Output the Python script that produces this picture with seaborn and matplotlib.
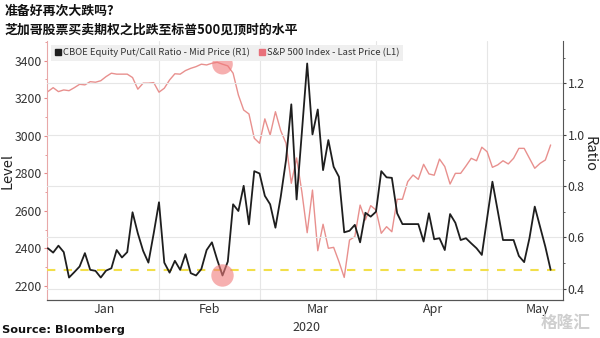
import numpy as np
import pandas as pd
import matplotlib
matplotlib.use("Agg")
import matplotlib.pyplot as plt
import seaborn as sns
from matplotlib.lines import Line2D
from matplotlib.ticker import FixedLocator, MultipleLocator

# ---- data (trading days, 31 Dec 2019 .. 18 May 2020) ----
ratio = [0.558, 0.541, 0.568, 0.543, 0.444, 0.465, 0.487, 0.539, 0.474, 0.470,
         0.444, 0.471, 0.480, 0.551, 0.522, 0.543, 0.698, 0.616, 0.548, 0.502,
         0.616, 0.737, 0.502, 0.463, 0.509, 0.474, 0.535, 0.461, 0.452, 0.477,
         0.551, 0.581, 0.513, 0.452, 0.506, 0.729, 0.703, 0.801, 0.651, 0.858,
         0.849, 0.762, 0.729, 0.638, 0.758, 0.901, 1.118, 0.748, 1.010, 1.277,
         1.001, 1.098, 0.862, 0.979, 0.875, 0.836, 0.620, 0.626, 0.649, 0.581,
         0.696, 0.681, 0.700, 0.858, 0.834, 0.832, 0.694, 0.652, 0.652, 0.652,
         0.652, 0.584, 0.694, 0.593, 0.597, 0.551, 0.691, 0.657, 0.590, 0.597,
         0.577, 0.558, 0.532, 0.675, 0.817, 0.704, 0.590, 0.590, 0.590, 0.528,
         0.504, 0.597, 0.720, 0.642, 0.564, 0.474]
spx = [3235, 3256, 3235, 3244, 3240, 3256, 3274, 3271, 3288, 3285,
       3293, 3315, 3333, 3328, 3328, 3328, 3310, 3248, 3280, 3280,
       3283, 3232, 3253, 3297, 3330, 3328, 3347, 3359, 3368, 3381,
       3377, 3386, 3391, 3381, 3372, 3333, 3217, 3137, 3116, 2987,
       2960, 3090, 3004, 3128, 3027, 2960, 2747, 2882, 2700, 2484,
       2711, 2388, 2529, 2401, 2406, 2330, 2246, 2445, 2463, 2631,
       2552, 2628, 2605, 2481, 2516, 2489, 2662, 2662, 2756, 2791,
       2768, 2848, 2797, 2790, 2876, 2836, 2743, 2800, 2800, 2839,
       2880, 2867, 2939, 2915, 2832, 2845, 2867, 2850, 2880, 2933,
       2933, 2880, 2827, 2853, 2871, 2951]
month_labels = ["Jan", "Feb", "Mar", "Apr", "May"]
month_bounds = [21, 40, 62, 83]          # trading-day index of month changes
month_centres = [10.6, 30.5, 51.0, 72.7, 92.6]
year_label = "2020"
threshold = 0.473
peak_idx = 33

title = "准备好再次大跌吗?\n芝加哥股票买卖期权之比跌至标普500见顶时的水平"
ratio_name = "CBOE Equity Put/Call Ratio - Mid Price (R1)"
spx_name = "S&P 500 Index - Last Price (L1)"

sns.set_style("white")
plt.rcParams["font.family"] = ["Noto Sans CJK SC", "DejaVu Sans"]

df = pd.DataFrame({"day": np.arange(len(ratio)), "ratio": ratio, "spx": spx})

RED = "#e8908e"
BLACK = "#1e1e1e"

fig = plt.figure(figsize=(6, 3.38), dpi=100)
ax = fig.add_axes([0.078, 0.112, 0.860, 0.767])
ax2 = ax.twinx()

sns.lineplot(data=df, x="day", y="spx", ax=ax, color=RED, lw=1.0)
sns.lineplot(data=df, x="day", y="ratio", ax=ax2, color=BLACK, lw=1.3)

ax.set_xlim(-0.2, 97.3)
ax.set_ylim(2125, 3505)
ax2.set_ylim(0.356, 1.365)

# grid
ax2.yaxis.set_major_locator(FixedLocator([0.4, 0.6, 0.8, 1.0, 1.2]))
ax2.yaxis.set_minor_locator(MultipleLocator(0.1))
ax2.grid(axis="y", color="#e6e6e6", lw=0.8, zorder=0)
ax.xaxis.set_major_locator(FixedLocator(month_bounds))
ax.grid(axis="x", color="#e6e6e6", lw=0.8)
ax.xaxis.set_minor_locator(FixedLocator(month_centres))
ax.set_xticklabels([""] * len(month_bounds))
ax.set_xticklabels(month_labels, minor=True)
ax.tick_params(axis="x", which="major", length=3, color="#444444", direction="out")
ax.tick_params(axis="x", which="minor", length=0, labelsize=9, labelcolor="#333333", pad=2)
ax.text(48.8, -0.08, year_label, transform=ax.get_xaxis_transform(),
        ha="center", va="top", fontsize=9, color="#333333")

ax.yaxis.set_major_locator(FixedLocator([2200, 2400, 2600, 2800, 3000, 3200, 3400]))
ax.yaxis.set_minor_locator(MultipleLocator(100))
ax.tick_params(axis="y", which="both", colors="#e58a8a", labelcolor="#333333",
               labelsize=8.8, length=2.5, pad=1)
ax.tick_params(axis="y", which="minor", length=1.5)
ax2.tick_params(axis="y", which="both", colors="#444444", labelcolor="#333333",
                labelsize=8.8, length=2.5, pad=1)
ax2.tick_params(axis="y", which="minor", length=1.5)

ax.set_xlabel("")
ax.set_ylabel("")
ax2.set_ylabel("")
fig.text(0.012, 0.495, "Level", rotation=90, ha="center", va="center",
         fontsize=10.5, color="#222222")
fig.text(0.982, 0.545, "Ratio", rotation=-90, ha="center", va="center",
         fontsize=10.5, color="#222222")

ax.spines["top"].set_visible(False)
ax2.spines["top"].set_visible(False)
ax.spines["left"].set_color("#e8a8a8")
ax2.spines["left"].set_visible(False)
ax2.spines["right"].set_color("#555555")
ax.spines["right"].set_visible(False)
ax2.spines["bottom"].set_color("#555555")
ax.spines["bottom"].set_color("#555555")

# threshold line
ax2.axhline(threshold, color="#f2df4a", ls=(0, (4, 4)), lw=1.5, zorder=1)

# highlight circles
ax2.scatter([peak_idx], [ratio[peak_idx]], s=260, color="#f07a7a", alpha=0.6,
            edgecolors="none", zorder=4)
ax.scatter([peak_idx], [spx[peak_idx]], s=220, color="#f07a7a", alpha=0.6,
           edgecolors="none", zorder=4)

# legend
handles = [Line2D([], [], marker="s", ls="none", color=BLACK, markersize=5),
           Line2D([], [], marker="s", ls="none", color="#e8707a", markersize=5)]
leg = ax2.legend(handles, [ratio_name, spx_name], loc="upper left", ncol=2,
                 bbox_to_anchor=(0.0, 1.0), fontsize=6.8, frameon=True,
                 facecolor="#efefef", edgecolor="none", framealpha=1,
                 handletextpad=0.05, columnspacing=0.9, borderpad=0.35,
                 handlelength=0.9, fancybox=False, borderaxespad=0.4)
for t in leg.get_texts():
    t.set_color("#333333")
leg.set_zorder(10)

fig.text(0.008, 0.988, title, ha="left", va="top", fontsize=9.3,
         fontweight="bold", color="#111111", linespacing=1.45)
fig.text(0.004, 0.008, "Source: Bloomberg", ha="left", va="bottom",
         fontsize=8.2, fontweight="bold", color="#111111",
         family=["DejaVu Sans"])
fig.text(0.985, 0.02, "格隆汇", ha="right", va="bottom", fontsize=12,
         color="#cfcfcf", fontweight="bold")

fig.savefig("out.png", dpi=100)
